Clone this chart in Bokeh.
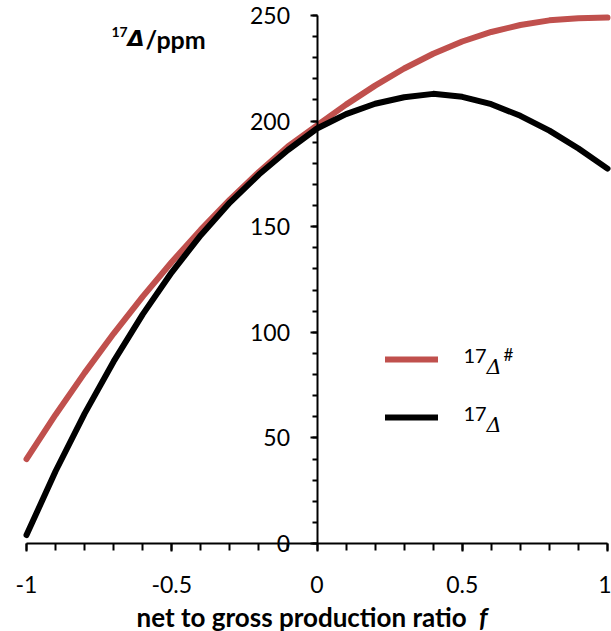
from bokeh.plotting import figure
from bokeh.models import Range1d, FixedTicker, Label, Legend, LegendItem
from bokeh.embed import file_html
from bokeh.resources import INLINE

# ---- data ----
f_vals = [-1.0, -0.9, -0.8, -0.7, -0.6, -0.5, -0.4, -0.3, -0.2, -0.1, 0.0,
          0.1, 0.2, 0.3, 0.4, 0.5, 0.6, 0.7, 0.8, 0.9, 1.0]
d17_hash = [40, 61, 80.8, 99.4, 116.9, 133.3, 148.6, 162.8, 175.9, 188.0, 198.0,
            207.8, 216.8, 224.9, 231.9, 237.7, 242.2, 245.5, 247.7, 248.7, 249.0]
d17 = [4, 34.2, 61.5, 86.2, 108.5, 128.4, 146.0, 161.4, 174.7, 186.3, 196.5,
       203.3, 208.2, 211.3, 212.9, 211.5, 208.0, 202.5, 195.5, 187.0, 177.5]

x_major = [-1, -0.5, 0, 0.5, 1]
x_labels = ["-1", "-0.5", "0", "0.5", "1"]
x_minor = [-1, -0.9, -0.8, -0.7, -0.6, -0.5, -0.4, -0.3, -0.2, -0.1, 0,
           0.1, 0.2, 0.3, 0.4, 0.5, 0.6, 0.7, 0.8, 0.9, 1]
y_major = [0, 50, 100, 150, 200, 250]
y_labels = ["0", "50", "100", "150", "200", "250"]
y_minor = [0, 10, 20, 30, 40, 50, 60, 70, 80, 90, 100, 110, 120, 130, 140,
           150, 160, 170, 180, 190, 200, 210, 220, 230, 240, 250]
x_title = "net to gross production ratio"
x_title_var = "f"

RED = "#C0504D"
FONT = "Lato"

# pixel <-> data mapping of the reference (x=-1 at 26px, x=1 at 607px,
# y=0 at 543px, y=250 at 15px); the frame fills the whole canvas
PX_X = 290.5
PX_Y = 2.112
X0, Y0 = 316.5, 543.0
W, H = 611, 631

def X(px):
    return (px - X0) / PX_X

def Y(py):
    return (Y0 - py) / PX_Y

p = figure(width=W, height=H,
           x_range=Range1d(X(0), X(W)), y_range=Range1d(Y(H), Y(0)),
           output_backend="svg", toolbar_location=None,
           min_border_left=0, min_border_right=0, min_border_top=0,
           min_border_bottom=0)
p.outline_line_color = None
p.xgrid.visible = False
p.ygrid.visible = False
p.background_fill_color = "white"
p.border_fill_color = "white"

r1 = p.line(f_vals, d17_hash, line_color=RED, line_width=6,
            line_cap="round", line_join="round")
r2 = p.line(f_vals, d17, line_color="black", line_width=6,
            line_cap="round", line_join="round")

# x axis along y = 0
xa = p.xaxis[0]
xa.fixed_location = 0
xa.ticker = FixedTicker(ticks=x_major, minor_ticks=x_minor)
xa.major_label_overrides = {float(t): s for t, s in zip(x_major, x_labels)}
xa.bounds = (-1, 1)
xa.axis_line_width = 2
xa.axis_line_color = "black"
xa.major_tick_line_width = 2
xa.minor_tick_line_width = 2
xa.major_tick_out = 8
xa.major_tick_in = 0
xa.minor_tick_out = 7
xa.minor_tick_in = 0
xa.major_label_standoff = 24
xa.major_label_text_font = FONT
xa.major_label_text_font_size = "23px"
xa.major_label_text_color = "black"

# y axis through x = 0
ya = p.yaxis[0]
ya.fixed_location = 0
ya.ticker = FixedTicker(ticks=y_major, minor_ticks=y_minor)
ya.major_label_overrides = {float(t): s for t, s in zip(y_major, y_labels)}
ya.bounds = (0, 250)
ya.axis_line_width = 2
ya.axis_line_color = "black"
ya.major_tick_line_width = 2
ya.minor_tick_line_width = 2
ya.major_tick_out = 7
ya.major_tick_in = 0
ya.minor_tick_out = 5
ya.minor_tick_in = 0
ya.major_label_standoff = 20
ya.major_label_text_font = FONT
ya.major_label_text_font_size = "23px"
ya.major_label_text_color = "black"

def lab(px, py, text, size, style="normal", font=FONT, align="left"):
    p.add_layout(Label(x=X(px), y=Y(py), text=text, text_font=font,
                       text_font_size=size, text_font_style=style,
                       text_align=align, text_baseline="alphabetic",
                       text_color="black"))

# x axis title (variable f in italics)
lab(136, 616, x_title, "26px", "bold")
lab(487, 616, x_title_var, "26px", "bold italic", align="right")

# y axis title  17Δ/ppm
lab(111, 31, "17", "14px", "bold")
lab(127, 38, "\u0394", "22px", "bold italic", font="DejaVu Sans")
lab(145, 38, "/ppm", "25px", "bold")

# legend swatches
legend = Legend(items=[LegendItem(label=" ", renderers=[r1]),
                       LegendItem(label=" ", renderers=[r2])],
                location=(385, H - 427), glyph_width=53, glyph_height=20,
                spacing=38, padding=0, margin=0, border_line_color=None,
                background_fill_alpha=0, label_text_font_size="1px",
                label_standoff=0, label_width=0, label_height=20)
p.add_layout(legend)

# legend texts
lab(463, 355, "17", "20px")
lab(486, 366, "\u0394", "21px", "italic", font="DejaVu Serif")
lab(503, 354, "#", "17px")
lab(463, 413, "17", "20px")
lab(486, 424, "\u0394", "21px", "italic", font="DejaVu Serif")

open("out.html", "w").write(file_html(p, INLINE))
